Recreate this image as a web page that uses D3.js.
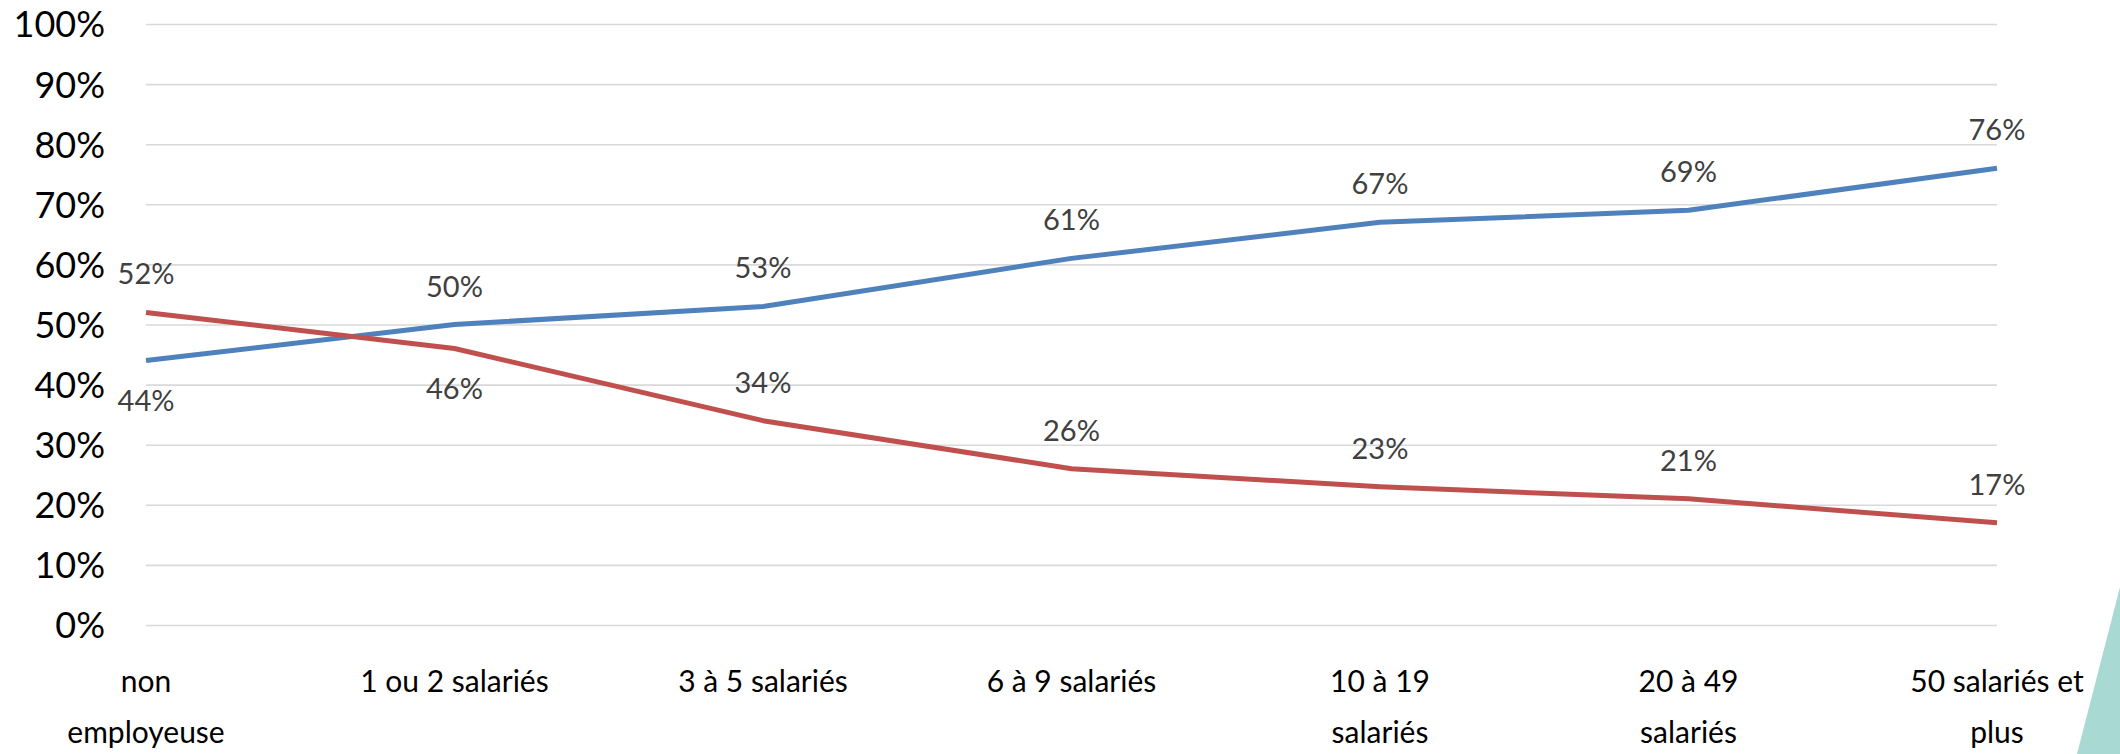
<!DOCTYPE html>
<html>
<head>
<meta charset="utf-8">
<script src="https://cdn.jsdelivr.net/npm/d3@7"></script>
<style>
  body { margin: 0; background: #fff; }
  svg { display: block; }
</style>
</head>
<body>
<div id="chart"></div>
<script>
const WIDTH = 2120;
const HEIGHT = 754;
const MARGIN = {
  top: 24,
  bottom: 129,
  right: 123,
  left: 146,
};

// categories (taille de l'entreprise)
const categories = ['non employeuse', '1 ou 2 salariés', '3 à 5 salariés', '6 à 9 salariés',
  '10 à 19 salariés', '20 à 49 salariés', '50 salariés et plus'];
// how the tick labels wrap in the original
const tickLines = [['non', 'employeuse'], ['1 ou 2 salariés'], ['3 à 5 salariés'], ['6 à 9 salariés'],
  ['10 à 19', 'salariés'], ['20 à 49', 'salariés'], ['50 salariés et', 'plus']];

const blueValues = [44, 50, 53, 61, 67, 69, 76];
const redValues = [52, 46, 34, 26, 23, 21, 17];

// label placement of each point
const blueLabelPos = ['below', 'above', 'above', 'above', 'above', 'above', 'above'];
const redLabelPos = ['above', 'below', 'above', 'above', 'above', 'above', 'above'];

const yTicks = [0, 10, 20, 30, 40, 50, 60, 70, 80, 90, 100];

const series = [
  { name: 'blue', values: blueValues, pos: blueLabelPos, color: '#4F81BD' },
  { name: 'red', values: redValues, pos: redLabelPos, color: '#C0504D' },
];

const svg = d3.select('#chart')
  .append('svg')
  .attr('width', WIDTH)
  .attr('height', HEIGHT)

const innerW = WIDTH - MARGIN.left - MARGIN.right
const innerH = HEIGHT - MARGIN.top - MARGIN.bottom

// decorative teal shape in the bottom right corner
svg.append('polygon')
  .attr('points', `2077,${HEIGHT} ${WIDTH},587 ${WIDTH},${HEIGHT}`)
  .attr('fill', '#A9D9D3')

const g = svg.append('g')
  .attr('transform', `translate(${MARGIN.left},${MARGIN.top})`)

const x = d3.scalePoint()
  .domain(categories)
  .range([0, innerW])
  .padding(0)

const y = d3.scaleLinear()
  .domain([0, 100])
  .range([innerH, 0])

// y axis + gridlines
const yAxis = g.append('g')
  .call(d3.axisLeft(y)
    .tickValues(yTicks)
    .tickSize(-innerW)
    .tickPadding(41)
    .tickFormat(d => d + '%'))

yAxis.select('.domain').remove()
yAxis.selectAll('line')
  .attr('stroke', '#D9D9D9')
  .attr('stroke-width', 1.6)
yAxis.selectAll('text')
  .attr('font-family', 'Lato, "Open Sans", sans-serif')
  .attr('font-size', 36)
  .attr('fill', '#000')
  .attr('dy', '0.36em')

// x labels
const xLabels = g.append('g')
  .selectAll('text')
  .data(categories)
  .join('text')
  .attr('x', d => x(d))
  .attr('y', innerH + 67)
  .attr('text-anchor', 'middle')
  .attr('font-family', 'Lato, "Open Sans", sans-serif')
  .attr('font-size', 30)
  .attr('fill', '#000')

xLabels.selectAll('tspan')
  .data((d, i) => tickLines[i])
  .join('tspan')
  .attr('x', function () { return this.parentNode.getAttribute('x') })
  .attr('dy', (d, i) => i === 0 ? 0 : 51)
  .text(d => d)

// lines
const line = d3.line()
  .x((d, i) => x(categories[i]))
  .y(d => y(d))

g.selectAll('path.serie')
  .data(series)
  .join('path')
  .attr('class', 'serie')
  .attr('d', d => line(d.values))
  .attr('fill', 'none')
  .attr('stroke', d => d.color)
  .attr('stroke-width', 5)
  .attr('stroke-linejoin', 'round')

// data labels
series.forEach(s => {
  g.append('g')
    .selectAll('text')
    .data(s.values)
    .join('text')
    .attr('x', (d, i) => x(categories[i]))
    .attr('y', (d, i) => s.pos[i] === 'above' ? y(d) - 28 : y(d) + 50)
    .attr('text-anchor', 'middle')
    .attr('font-family', 'Lato, "Open Sans", sans-serif')
    .attr('font-size', 29)
    .attr('fill', '#404040')
    .text(d => d + '%')
})
</script>
</body>
</html>
